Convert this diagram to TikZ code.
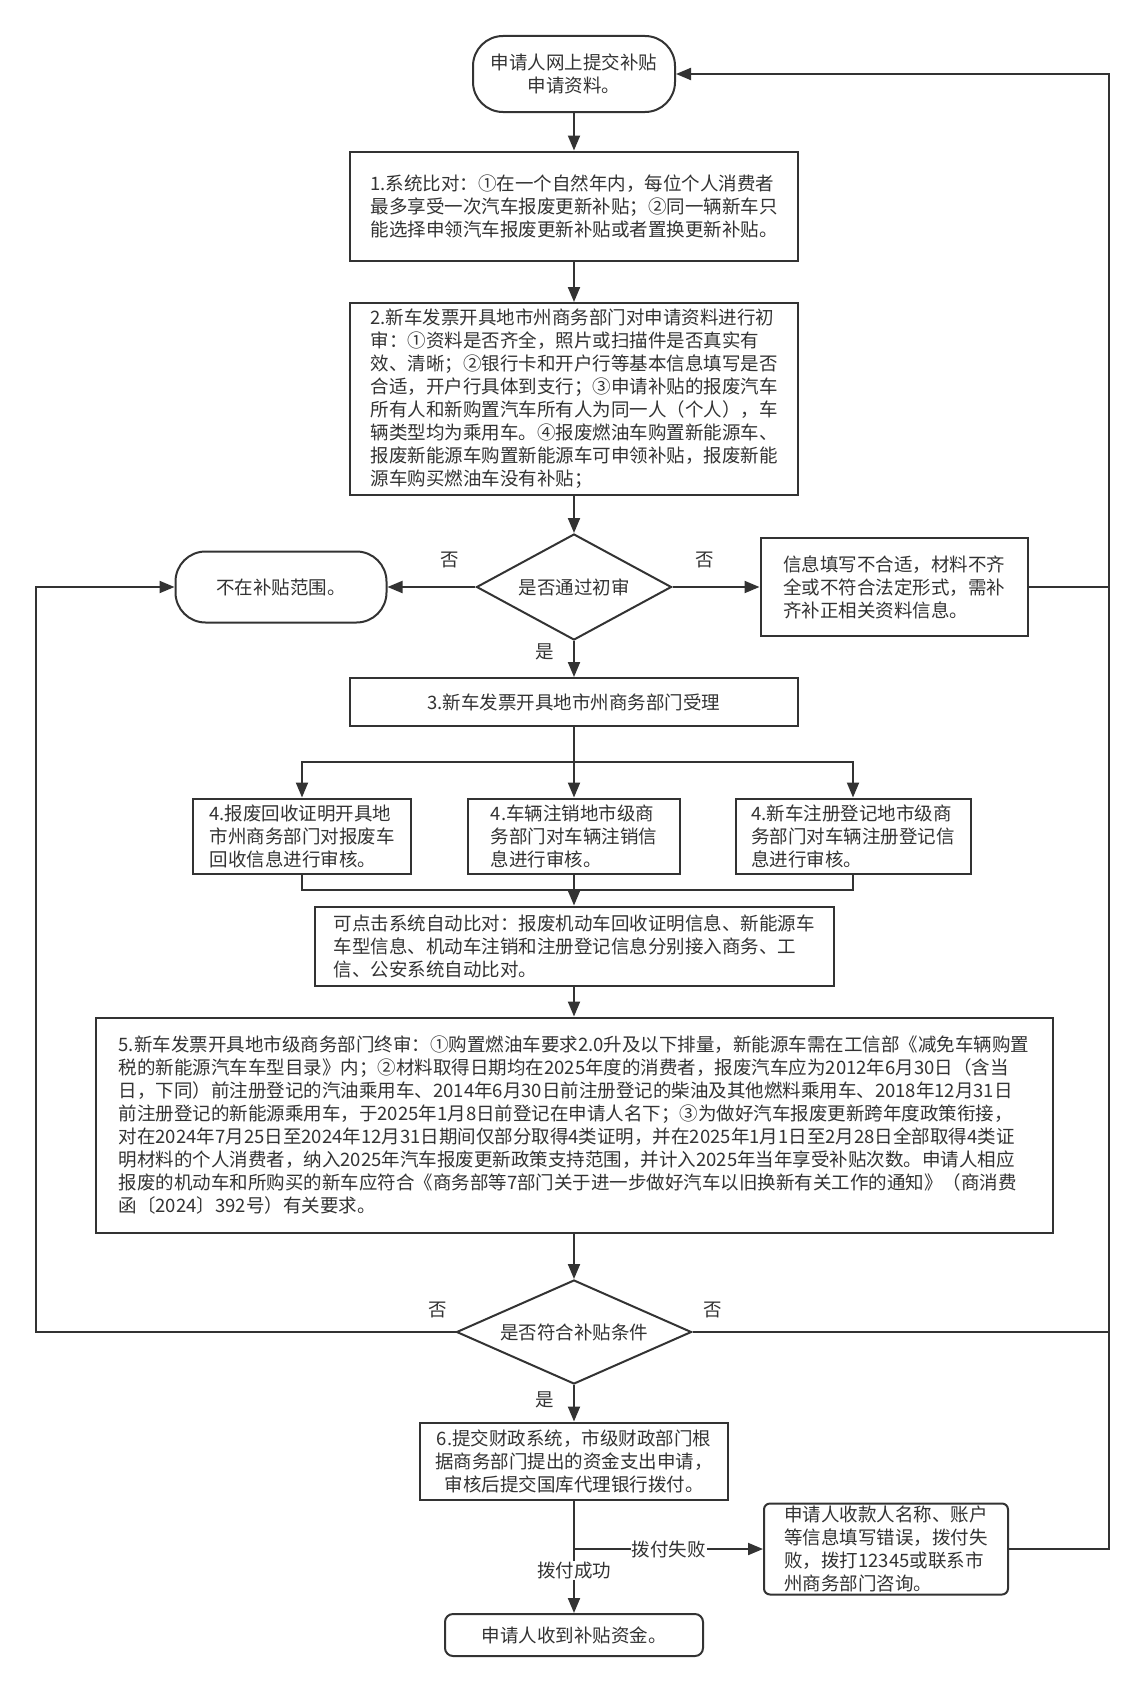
\documentclass[tikz,border=0pt]{standalone}
\usepackage{fontspec}
\setmainfont{Noto Sans CJK SC}
\usetikzlibrary{arrows.meta,shapes.geometric}

\begin{document}
\begin{tikzpicture}[x=1pt,y=-1pt,>={Stealth[inset=0pt,length=15pt,width=12pt]},
	line width=2pt,color=black!80,
	box/.style={draw,rectangle,inner sep=0pt,align=left,font=\fontsize{18.5pt}{23pt}\selectfont},
	term/.style={box,align=center},
	dec/.style={draw,diamond,inner sep=0pt,align=center,font=\fontsize{18.5pt}{23pt}\selectfont},
	lab/.style={inner sep=1pt,font=\fontsize{18.5pt}{23pt}\selectfont}]
			\path[fill=white,use as bounding box] (0,0) rectangle (1139,1686);
			\node[term,minimum width=202pt,minimum height=76pt,rounded corners=30pt] (start) at (574,74) {申请人网上提交补贴\\申请资料。};
			\node[box,minimum width=448pt,minimum height=109pt] (b1) at (574,206) {1.系统比对：①在一个自然年内，每位个人消费者\\最多享受一次汽车报废更新补贴；②同一辆新车只\\能选择申领汽车报废更新补贴或者置换更新补贴。};
			\node[box,minimum width=448pt,minimum height=192pt] (b2) at (574,399) {2.新车发票开具地市州商务部门对申请资料进行初\\审：①资料是否齐全，照片或扫描件是否真实有\\效、清晰；②银行卡和开户行等基本信息填写是否\\合适，开户行具体到支行；③申请补贴的报废汽车\\所有人和新购置汽车所有人为同一人（个人），车\\辆类型均为乘用车。④报废燃油车购置新能源车、\\报废新能源车购置新能源车可申领补贴，报废新能\\源车购买燃油车没有补贴；};
			\node[dec,minimum width=195pt,minimum height=106pt,aspect=1.84] (d1) at (574,587) {是否通过初审};
			\node[term,minimum width=211pt,minimum height=71pt,rounded corners=30pt] (nf) at (281,587) {不在补贴范围。};
			\node[box,minimum width=267pt,minimum height=98pt] (info) at (894,587) {信息填写不合适，材料不齐\\全或不符合法定形式，需补\\齐补正相关资料信息。};
			\node[term,minimum width=448pt,minimum height=48pt] (b3) at (574,702) {3.新车发票开具地市州商务部门受理};
			\node[box,minimum width=218pt,minimum height=75pt] (b4a) at (302,836) {4.报废回收证明开具地\\市州商务部门对报废车\\回收信息进行审核。};
			\node[box,minimum width=212pt,minimum height=75pt] (b4b) at (574,836) {4.车辆注销地市级商\\务部门对车辆注销信\\息进行审核。};
			\node[box,minimum width=235pt,minimum height=75pt] (b4c) at (853,836) {4.新车注册登记地市级商\\务部门对车辆注册登记信\\息进行审核。};
			\node[box,minimum width=519pt,minimum height=79pt] (cmp) at (574,946) {可点击系统自动比对：报废机动车回收证明信息、新能源车\\车型信息、机动车注销和注册登记信息分别接入商务、工\\信、公安系统自动比对。};
			\node[box,minimum width=957pt,minimum height=215pt] (b5) at (574,1125) {5.新车发票开具地市级商务部门终审：①购置燃油车要求2.0升及以下排量，新能源车需在工信部《减免车辆购置\\税的新能源汽车车型目录》内；②材料取得日期均在2025年度的消费者，报废汽车应为2012年6月30日（含当\\日，下同）前注册登记的汽油乘用车、2014年6月30日前注册登记的柴油及其他燃料乘用车、2018年12月31日\\前注册登记的新能源乘用车，于2025年1月8日前登记在申请人名下；③为做好汽车报废更新跨年度政策衔接，\\对在2024年7月25日至2024年12月31日期间仅部分取得4类证明，并在2025年1月1日至2月28日全部取得4类证\\明材料的个人消费者，纳入2025年汽车报废更新政策支持范围，并计入2025年当年享受补贴次数。申请人相应\\报废的机动车和所购买的新车应符合《商务部等7部门关于进一步做好汽车以旧换新有关工作的通知》（商消费\\函〔2024〕392号）有关要求。};
			\node[dec,minimum width=235pt,minimum height=104pt,aspect=2.26] (d2) at (574,1332) {是否符合补贴条件};
			\node[term,minimum width=308pt,minimum height=77pt] (b6) at (574,1461) {6.提交财政系统，市级财政部门根\\据商务部门提出的资金支出申请，\\审核后提交国库代理银行拨付。};
			\node[box,minimum width=244pt,minimum height=91pt,rounded corners=6pt] (fail) at (886,1549) {申请人收款人名称、账户\\等信息填写错误，拨付失\\败，拨打12345或联系市\\州商务部门咨询。};
			\node[term,minimum width=258pt,minimum height=42pt,rounded corners=8pt] (final) at (574,1635) {申请人收到补贴资金。};
			\foreach \n/\p/\t in {n1/{450,560}/否,n2/{705,560}/否,y1/{545,652}/是,n3/{438,1310}/否,n4/{713,1310}/否,y2/{545,1400}/是}
				\node[lab] (\n) at (\p) {\t};
			\path
			(574,762) coordinate (split)
			(574,890) coordinate (join)
			(574,1549) coordinate (fork)
			(1109,74) coordinate (rtop)
			(1109,1549) coordinate (rbot)
			(36,1332) coordinate (lbot)
			(36,587) coordinate (ltop);
			\draw[->] (start)--(b1);
			\draw[->] (b1)--(b2);
			\draw[->] (b2)--(d1);
			\draw[->] (d1)--(nf);
			\draw[->] (d1)--(info);
			\draw[->] (d1)--(b3);
			\draw (b3)--(split);
			\draw[->] (split)-|(b4a);
			\draw[->] (split)--(b4b);
			\draw[->] (split)-|(b4c);
			\draw (b4a)|-(join) (b4c)|-(join);
			\draw[->] (b4b)--(cmp);
			\draw[->] (cmp)--(b5);
			\draw[->] (b5)--(d2);
			\draw[->] (d2)--(b6);
			\draw[->] (fork)--node[lab,fill=white]{拨付失败}(fail);
			\draw[->] (b6)--node[lab,fill=white,pos=.62]{拨付成功}(final);
			\draw[->] (fail)--(rbot)--(rtop)--(start);
			\draw (info)--(info-|rtop) (d2)--(d2-|rtop);
			\draw[->] (d2)--(lbot)--(ltop)--(nf);
		\end{tikzpicture}
\end{document}
